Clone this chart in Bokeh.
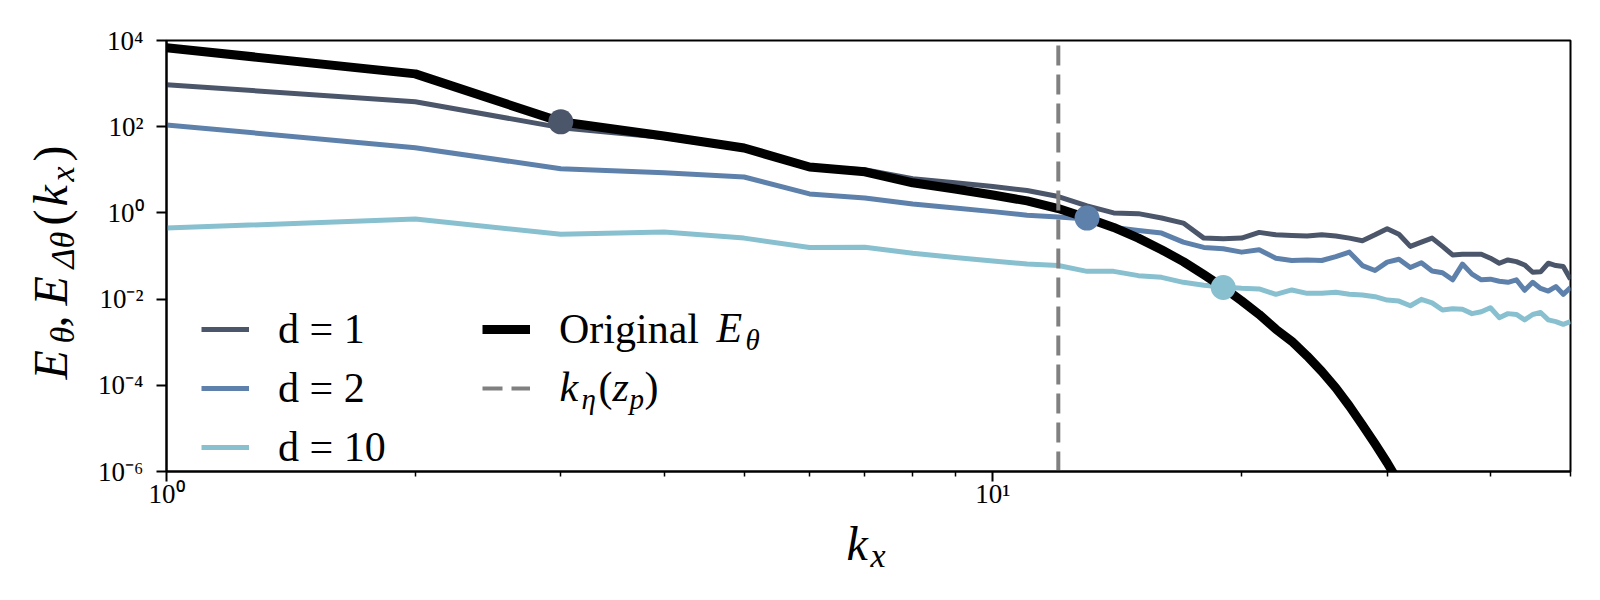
import math
from bokeh.plotting import figure
from bokeh.layouts import row, column
from bokeh.models import (Range1d, FixedTicker, Label, Legend, LegendItem,
                          CustomJSTickFormatter)
from bokeh.embed import file_html
from bokeh.resources import INLINE

# ---------------- data ----------------
kx = list(range(1, 51))
kx_orig = list(range(1, 36))

E_orig = [6800, 1680, 130, 61, 32, 11.6, 9.0, 5.0, 3.6, 2.6,
          1.9, 1.26, 0.76, 0.46, 0.26, 0.14, 0.074, 0.037, 0.0186, 0.0091,
          0.0044, 0.0020, 1.05e-3, 4.8e-4, 2.1e-4, 8.7e-5, 3.3e-5, 1.2e-5, 4.4e-6, 1.6e-6,
          5.5e-7, 1.8e-7, 5.5e-8, 1.7e-8, 5.0e-9]

E_d1 = [940, 380, 95, 56, 30, 11.5, 10.0, 6.2, 5.0, 4.1,
        3.3, 2.4, 1.45, 1.0, 0.96, 0.76, 0.58, 0.26, 0.25, 0.26,
        0.353, 0.311, 0.30, 0.29, 0.31, 0.29, 0.26, 0.226, 0.31, 0.43,
        0.32, 0.167, 0.21, 0.26, 0.167, 0.106, 0.11, 0.11, 0.11, 0.089,
        0.068, 0.081, 0.074, 0.062, 0.042, 0.043, 0.068, 0.060, 0.057, 0.029]

E_d2 = [110, 32.6, 10.6, 8.5, 6.8, 2.76, 2.22, 1.61, 1.3, 1.07,
        0.88, 0.80, 0.72, 0.46, 0.39, 0.34, 0.21, 0.158, 0.147, 0.123,
        0.139, 0.089, 0.0785, 0.081, 0.0785, 0.097, 0.123, 0.060, 0.046, 0.072,
        0.084, 0.054, 0.070, 0.045, 0.041, 0.028, 0.065, 0.038, 0.028, 0.029,
        0.026, 0.0245, 0.028, 0.016, 0.0245, 0.0177, 0.0154, 0.0195, 0.0129, 0.0185]

E_d10 = [0.445, 0.72, 0.32, 0.36, 0.26, 0.158, 0.16, 0.116, 0.092, 0.077,
         0.065, 0.060, 0.044, 0.044, 0.035, 0.032, 0.0245, 0.021, 0.0190, 0.0178,
         0.0172, 0.0129, 0.0163, 0.0136, 0.0136, 0.0144, 0.0129, 0.0124, 0.0114, 0.0095,
         0.0090, 0.0070, 0.0099, 0.0082, 0.0056, 0.0060, 0.0058, 0.0046, 0.0051, 0.0063,
         0.0037, 0.0046, 0.0044, 0.0033, 0.0044, 0.0049, 0.0033, 0.0030, 0.0026, 0.0030]

d_series = [E_d1, E_d2, E_d10]
d_labels = ["d = 1", "d = 2", "d = 10"]
d_colors = ["#4C566A", "#5E81AC", "#88C0D0"]
dot_k = [3, 13, 19]            # crossing wavenumber for each d
k_eta = 12                     # k_eta(z_p)

x_lim = (1, 50)
y_lim = (1e-6, 1e4)
x_major = [1, 10]
x_minor = [2, 3, 4, 5, 6, 7, 8, 9, 20, 30, 40, 50]
y_major = [1e-6, 1e-4, 1e-2, 1, 1e2, 1e4]
tick_exps = [-6, -4, -2, 0, 1, 2, 4]
tick_texts = ["10⁻⁶", "10⁻⁴", "10⁻²", "10⁰", "10¹", "10²", "10⁴"]

# ---------------- geometry (page pixels) ----------------
SERIF = "Liberation Serif"
TOTAL_W, TOTAL_H = 1584, 584
LEFT_W = 84            # strip holding the y label
MAIN_H = 512           # main plot height; strip below holds the x label
FL, FR, FT, FB = 166, 1570, 40, 471   # frame edges in page pixels
BASE = 0.36            # baseline shift of an "alphabetic" label, in em

# ---------------- main figure ----------------
p = figure(width=TOTAL_W - LEFT_W, height=MAIN_H,
           x_axis_type="log", y_axis_type="log",
           x_range=Range1d(*x_lim), y_range=Range1d(*y_lim),
           output_backend="svg", toolbar_location=None,
           min_border_left=FL - LEFT_W, min_border_right=TOTAL_W - FR,
           min_border_top=FT, min_border_bottom=MAIN_H - FB)
p.frame_align = False
p.xgrid.visible = False
p.ygrid.visible = False
p.outline_line_color = "black"
p.outline_line_width = 2
p.outline_line_alpha = 1

fmt = CustomJSTickFormatter(args=dict(exps=tick_exps, labs=tick_texts), code="""
    const e = Math.round(Math.log10(tick));
    const i = exps.indexOf(e);
    return i >= 0 ? labs[i] : "";
""")
p.xaxis.ticker = FixedTicker(ticks=x_major, minor_ticks=x_minor)
p.yaxis.ticker = FixedTicker(ticks=y_major, minor_ticks=[])
for ax in (p.xaxis[0], p.yaxis[0]):
    ax.formatter = fmt
    ax.axis_line_color = "black"
    ax.axis_line_width = 2
    ax.major_tick_line_color = "black"
    ax.major_tick_line_width = 2
    ax.major_tick_out = 10
    ax.major_tick_in = 0
    ax.minor_tick_line_color = "black"
    ax.minor_tick_line_width = 1.5
    ax.minor_tick_out = 5
    ax.minor_tick_in = 0
    ax.major_label_text_font = SERIF
    ax.major_label_text_font_size = "27px"
    ax.major_label_text_color = "black"
p.xaxis.major_label_standoff = -3
p.yaxis.major_label_standoff = 13

# ---------------- glyphs ----------------
d_renderers = []
for vals, col in zip(d_series, d_colors):
    r = p.line(kx, vals, line_color=col, line_width=5, line_join="round")
    d_renderers.append(r)

r_orig = p.line(kx_orig, E_orig, line_color="black", line_width=9, line_join="round")
r_eta = p.segment(x0=[k_eta], y0=[y_lim[0]], x1=[k_eta], y1=[y_lim[1]],
                  line_color="#808080", line_width=4, line_dash="20 9")

dot_y = [E_orig[k - 1] for k in dot_k]
p.scatter(x=dot_k, y=dot_y, size=25, fill_color=d_colors, line_color=None)

# ---------------- legends ----------------
def make_legend(items, fx, fy):
    return Legend(items=items, location=(fx, fy), orientation="vertical",
                  glyph_width=48, glyph_height=48, label_height=48, spacing=11,
                  label_standoff=29, padding=0, margin=0,
                  border_line_alpha=0, background_fill_alpha=0,
                  label_text_font=SERIF, label_text_font_size="42px",
                  label_text_color="black")

LEG_TOP = 305
leg1 = make_legend([LegendItem(label=l, renderers=[r]) for l, r in zip(d_labels, d_renderers)],
                   201 - FL, FB - (LEG_TOP + 3 * 48 + 2 * 11))
leg2 = make_legend([LegendItem(label="Original", renderers=[r_orig]),
                    LegendItem(label=" ", renderers=[r_eta])],
                   482 - FL, FB - (LEG_TOP + 2 * 48 + 11))
p.add_layout(leg1)
p.add_layout(leg2)

def put_main(txt, X, Y, size, italic=True):
    # (X, Y): start of the text baseline, page pixels
    p.add_layout(Label(x=X - FL, y=FB - (Y - BASE * size), x_units="screen", y_units="screen",
                       text=txt, text_font=SERIF, text_font_size=f"{size}px",
                       text_font_style="italic" if italic else "normal",
                       text_align="left", text_baseline="alphabetic",
                       text_color="black"))

# legend math: Original E_theta ; k_eta(z_p)
R1 = LEG_TOP + 24 + 14          # baseline of legend row 1
R2 = R1 + 59
put_main("E", 716, R1, 42)
put_main("θ", 745, R1 + 7, 29)
put_main("k", 559, R2, 42)
put_main("η", 581, R2 + 7, 29)
put_main("(", 598, R2, 42, italic=False)
put_main("z", 612, R2, 42)
put_main("p", 629, R2 + 7, 29)
put_main(")", 644, R2, 42, italic=False)

# ---------------- text strips ----------------
def strip(w, h):
    f = figure(width=w, height=h, x_range=Range1d(0, w), y_range=Range1d(0, h),
               x_axis_location=None, y_axis_location=None,
               output_backend="svg", toolbar_location=None, min_border=0)
    f.frame_align = False
    f.outline_line_color = None
    f.grid.visible = False
    return f

# y label (rotated), (X, Y): baseline x and lower end of each piece
ly = strip(LEFT_W, MAIN_H)

def put_y(txt, X, Y, size, italic=True):
    ly.add_layout(Label(x=X - BASE * size, y=MAIN_H - Y, text=txt, text_font=SERIF,
                        text_font_size=f"{size}px",
                        text_font_style="italic" if italic else "normal",
                        text_align="left", text_baseline="alphabetic",
                        text_color="black", angle=math.pi / 2))

BX, SX = 67, 74
put_y("E", BX, 379, 48)
put_y("θ", SX, 343, 34)
put_y(",", BX, 327, 48, italic=False)
put_y("E", BX, 305, 48)
put_y("Δθ", SX, 268, 34)
put_y("(", BX, 225, 48, italic=False)
put_y("k", BX, 206, 48)
put_y("x", SX, 181, 34)
put_y(")", BX, 161, 48, italic=False)

# x label k_x, (X, Y): start of baseline
lx = strip(TOTAL_W, TOTAL_H - MAIN_H)

def put_x(txt, X, Y, size, italic=True):
    lx.add_layout(Label(x=X, y=TOTAL_H - (Y - BASE * size), text=txt, text_font=SERIF,
                        text_font_size=f"{size}px",
                        text_font_style="italic" if italic else "normal",
                        text_align="left", text_baseline="alphabetic",
                        text_color="black"))

put_x("k", 846, 560, 48)
put_x("x", 870, 567, 34)

layout = column(row(ly, p, spacing=0), lx, spacing=0)
open("out.html", "w").write(file_html(layout, INLINE, title="spectra"))
